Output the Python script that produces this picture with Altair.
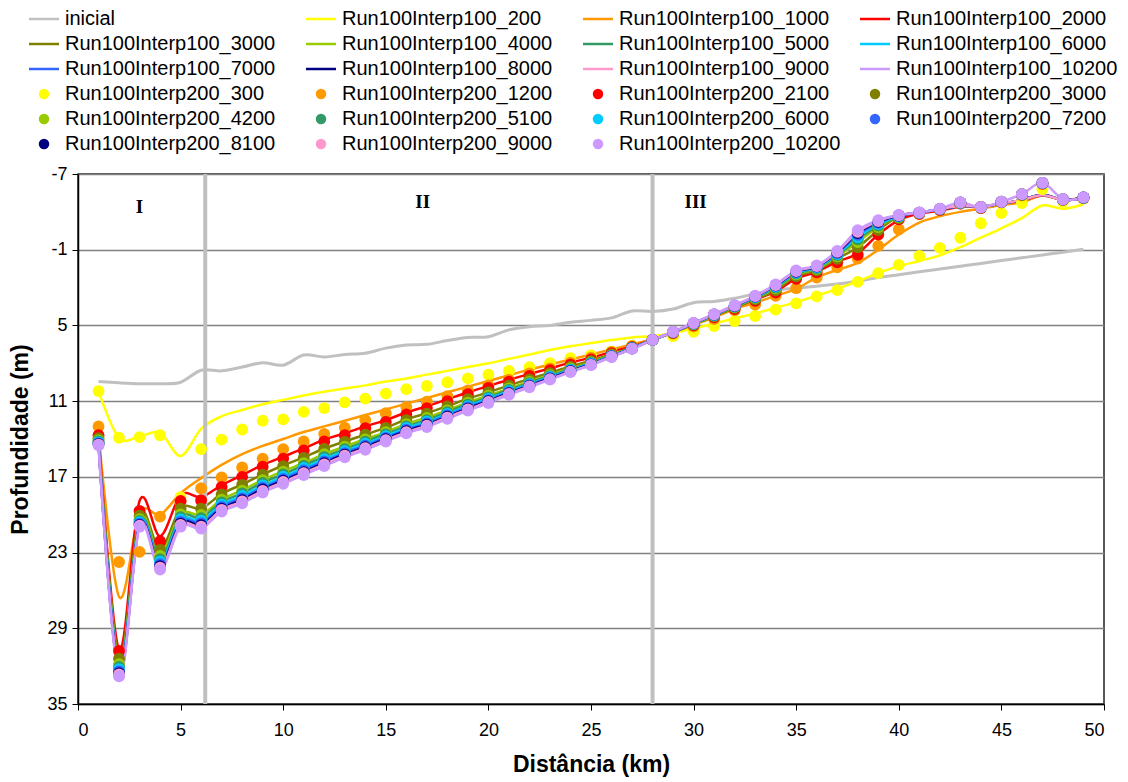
import altair as alt
import pandas as pd

# Distance along the profile (km) where every run was sampled
km = list(range(1, 50))

# Initial bathymetry
inicial = [9.45, 9.55, 9.62, 9.62, 9.5, 8.55, 8.6, 8.3, 7.95, 8.15,
           7.35, 7.5, 7.3, 7.2, 6.8, 6.55, 6.5, 6.2, 5.95, 5.9,
           5.35, 5.1, 5.0, 4.75, 4.6, 4.4, 3.85, 3.9, 3.7, 3.2,
           3.1, 2.85, 2.5, 2.2, 2.05, 1.9, 1.72, 1.5, 1.2, 0.98,
           0.75, 0.53, 0.31, 0.09, -0.14, -0.36, -0.58, -0.8, -1.03]

# Run100Interp100 profiles (lines)
l100_200 = [10.2, 13.9, 13.8, 13.5, 15.35, 13.2, 12.2, 11.7, 11.25, 10.9,
            10.55, 10.25, 10.0, 9.75, 9.45, 9.2, 8.9, 8.6, 8.3, 8.0,
            7.65, 7.3, 6.95, 6.65, 6.4, 6.15, 5.95, 5.85, 5.6, 5.25,
            4.85, 4.45, 4.05, 3.6, 3.15, 2.65, 2.1, 1.5, 0.85, 0.3,
            -0.1, -0.55, -1.2, -1.95, -2.7, -3.5, -4.5, -4.25, -4.6]
l100_1000 = [13.6, 26.5, 19.9, 20.0, 18.3, 17.1, 16.05, 15.2, 14.55, 14.0,
             13.45, 13.0, 12.55, 12.1, 11.65, 11.2, 10.75, 10.3, 9.85, 9.4,
             8.95, 8.5, 8.1, 7.7, 7.3, 6.9, 6.5, 6.1, 5.55, 4.95,
             4.35, 3.7, 3.2, 2.65, 2.1, 1.2, 0.6, 0.05, -1.0, -2.2,
             -3.15, -3.65, -4.0, -4.25, -4.55, -4.75, -5.3, -4.95, -5.15]
l100_2000 = [13.6, 30.7, 18.9, 21.7, 18.45, 18.6, 17.65, 16.85, 16.05, 15.4,
             14.75, 14.05, 13.55, 13.0, 12.5, 11.9, 11.4, 10.85, 10.3, 9.8,
             9.3, 8.85, 8.4, 7.95, 7.55, 7.1, 6.65, 6.12, 5.55, 4.9,
             4.25, 3.6, 2.95, 2.3, 1.3, 0.75, -0.05, -0.7, -2.2, -3.35,
             -3.85, -4.1, -4.4, -4.4, -4.65, -4.9, -5.3, -4.95, -5.1]
l100_3000 = [13.9, 31.35, 20.0, 22.75, 19.5, 19.5, 18.35, 17.6, 16.8, 16.1,
             15.45, 14.75, 14.2, 13.65, 13.1, 12.45, 11.95, 11.4, 10.8, 10.3,
             9.75, 9.25, 8.75, 8.25, 7.8, 7.28, 6.74, 6.14, 5.57, 4.93,
             4.27, 3.6, 2.92, 2.2, 1.1, 0.62, -0.3, -1.2, -2.55, -3.65,
             -3.95, -4.2, -4.45, -4.4, -4.65, -4.95, -5.35, -4.95, -5.1]
l100_4000 = [14.1, 31.8, 20.3, 23.2, 19.95, 20.0, 18.8, 18.05, 17.25, 16.55,
             15.9, 15.2, 14.6, 14.0, 13.45, 12.8, 12.3, 11.7, 11.1, 10.55,
             10.0, 9.45, 8.92, 8.4, 7.92, 7.35, 6.78, 6.15, 5.55, 4.9,
             4.22, 3.54, 2.84, 2.06, 0.96, 0.51, -0.47, -1.6, -2.8, -3.65,
             -3.95, -4.2, -4.45, -4.4, -4.65, -4.95, -5.35, -4.95, -5.1]
l100_5000 = [14.2, 32.05, 20.45, 23.5, 20.15, 20.25, 19.0, 18.3, 17.45, 16.8,
             16.1, 15.4, 14.8, 14.2, 13.6, 13.0, 12.5, 11.85, 11.25, 10.7,
             10.1, 9.55, 9.0, 8.47, 7.97, 7.38, 6.79, 6.15, 5.54, 4.87,
             4.19, 3.51, 2.8, 1.99, 0.89, 0.45, -0.57, -1.83, -2.92, -3.65,
             -3.95, -4.2, -4.45, -4.4, -4.65, -4.95, -5.35, -4.95, -5.1]
l100_6000 = [14.28, 32.24, 20.6, 23.72, 20.38, 20.47, 19.2, 18.51, 17.68, 16.99,
             16.3, 15.6, 14.96, 14.37, 13.77, 13.13, 12.63, 12.01, 11.39, 10.81,
             10.21, 9.65, 9.09, 8.53, 8.02, 7.42, 6.81, 6.15, 5.53, 4.86,
             4.17, 3.48, 2.76, 1.93, 0.83, 0.4, -0.65, -2.0, -3.03, -3.65,
             -3.95, -4.2, -4.45, -4.4, -4.65, -4.95, -5.35, -4.95, -5.1]
l100_7000 = [14.34, 32.4, 20.7, 23.9, 20.54, 20.65, 19.36, 18.68, 17.85, 17.15,
             16.46, 15.76, 15.1, 14.52, 13.9, 13.26, 12.76, 12.12, 11.49, 10.91,
             10.29, 9.72, 9.15, 8.58, 8.06, 7.44, 6.82, 6.15, 5.52, 4.84,
             4.15, 3.46, 2.73, 1.87, 0.77, 0.35, -0.73, -2.18, -3.13, -3.7,
             -3.95, -4.2, -4.45, -4.4, -4.65, -4.95, -5.35, -4.95, -5.1]
l100_8000 = [14.39, 32.54, 20.79, 24.06, 20.68, 20.81, 19.5, 18.83, 17.98, 17.3,
             16.6, 15.9, 15.22, 14.64, 14.0, 13.36, 12.86, 12.22, 11.58, 11.0,
             10.36, 9.78, 9.2, 8.62, 8.09, 7.46, 6.83, 6.15, 5.51, 4.82,
             4.13, 3.44, 2.7, 1.83, 0.73, 0.32, -0.79, -2.32, -3.21, -3.72,
             -3.95, -4.2, -4.45, -4.4, -4.65, -4.95, -5.35, -4.95, -5.1]
l100_9000 = [14.44, 32.66, 20.86, 24.19, 20.81, 20.94, 19.61, 18.95, 18.11, 17.41,
             16.71, 16.01, 15.33, 14.73, 14.09, 13.45, 12.95, 12.3, 11.66, 11.07,
             10.43, 9.84, 9.25, 8.66, 8.12, 7.48, 6.84, 6.15, 5.51, 4.81,
             4.12, 3.42, 2.68, 1.8, 0.7, 0.29, -0.84, -2.41, -3.27, -3.74,
             -3.95, -4.22, -4.46, -4.41, -4.68, -4.94, -5.34, -4.94, -5.07]
l100_10200 = [14.5, 32.8, 20.95, 24.35, 20.95, 21.1, 19.75, 19.1, 18.25, 17.55,
              16.85, 16.15, 15.45, 14.85, 14.2, 13.55, 13.05, 12.4, 11.75, 11.15,
              10.5, 9.9, 9.3, 8.7, 8.15, 7.5, 6.85, 6.15, 5.5, 4.8,
              4.1, 3.4, 2.65, 1.75, 0.65, 0.25, -0.9, -2.55, -3.35, -3.75,
              -3.95, -4.25, -4.75, -4.35, -4.8, -5.4, -6.3, -5.0, -5.15]

# Run100Interp200 profiles (markers only)
p200_300 = [10.2, 13.9, 13.85, 13.7, 18.6, 14.8, 14.05, 13.25, 12.55, 12.45,
            11.85, 11.55, 11.1, 10.8, 10.4, 10.05, 9.8, 9.5, 9.2, 8.9,
            8.6, 8.3, 8.0, 7.6, 7.35, 7.05, 6.6, 6.15, 5.85, 5.5,
            5.05, 4.65, 4.25, 3.75, 3.25, 2.7, 2.2, 1.55, 0.85, 0.2,
            -0.5, -1.15, -1.95, -3.1, -3.9, -4.7, -5.8, -4.8, -5.05]
p200_1200 = [13.0, 23.75, 22.95, 20.15, 19.0, 17.9, 17.05, 16.25, 15.55, 14.8,
             14.2, 13.6, 13.1, 12.5, 11.95, 11.45, 11.05, 10.6, 10.15, 9.75,
             9.3, 8.8, 8.4, 7.95, 7.55, 7.1, 6.65, 6.15, 5.65, 5.1,
             4.5, 3.8, 3.35, 2.65, 2.05, 1.2, 0.4, -0.3, -1.3, -2.6,
             -3.8, -4.15, -4.65, -4.3, -4.75, -5.3, -6.2, -4.95, -5.1]
p200_2100 = [13.7, 30.8, 19.7, 22.1, 18.9, 18.85, 17.8, 17.0, 16.2, 15.55,
             14.9, 14.2, 13.7, 13.15, 12.65, 12.05, 11.55, 11.0, 10.45, 9.95,
             9.45, 9.0, 8.55, 8.1, 7.7, 7.2, 6.7, 6.15, 5.6, 5.0,
             4.35, 3.7, 3.05, 2.4, 1.3, 0.8, 0.0, -0.6, -2.2, -3.4,
             -3.85, -4.15, -4.65, -4.3, -4.75, -5.35, -6.25, -4.95, -5.1]
p200_3000 = [13.94, 31.4, 20.08, 22.78, 19.52, 19.53, 18.39, 17.63, 16.82, 16.15,
             15.49, 14.79, 14.23, 13.66, 13.12, 12.5, 12.0, 11.42, 10.84, 10.31,
             9.77, 9.27, 8.78, 8.28, 7.84, 7.29, 6.75, 6.15, 5.57, 4.94,
             4.28, 3.61, 2.93, 2.21, 1.11, 0.64, -0.27, -1.19, -2.55, -3.51,
             -3.88, -4.18, -4.68, -4.33, -4.77, -5.37, -6.27, -4.97, -5.12]
p200_4200 = [14.12, 31.84, 20.35, 23.27, 19.97, 20.02, 18.81, 18.09, 17.27, 16.59,
             15.91, 15.21, 14.61, 14.03, 13.46, 12.83, 12.33, 11.73, 11.13, 10.57,
             10.0, 9.47, 8.94, 8.41, 7.93, 7.36, 6.78, 6.15, 5.55, 4.9,
             4.22, 3.54, 2.84, 2.06, 0.96, 0.51, -0.47, -1.61, -2.8, -3.58,
             -3.9, -4.2, -4.7, -4.35, -4.78, -5.38, -6.28, -4.98, -5.13]
p200_5100 = [14.2, 32.06, 20.49, 23.52, 20.19, 20.27, 19.03, 18.32, 17.49, 16.81,
             16.13, 15.43, 14.8, 14.22, 13.63, 13.0, 12.5, 11.88, 11.27, 10.71,
             10.11, 9.57, 9.02, 8.48, 7.98, 7.39, 6.79, 6.15, 5.54, 4.87,
             4.19, 3.51, 2.8, 1.99, 0.89, 0.45, -0.57, -1.83, -2.92, -3.62,
             -3.91, -4.21, -4.71, -4.36, -4.78, -5.38, -6.28, -4.98, -5.13]
p200_6000 = [14.28, 32.24, 20.6, 23.72, 20.38, 20.47, 19.2, 18.51, 17.68, 16.99,
             16.3, 15.6, 14.96, 14.37, 13.77, 13.13, 12.63, 12.01, 11.39, 10.81,
             10.21, 9.65, 9.09, 8.53, 8.02, 7.42, 6.81, 6.15, 5.53, 4.86,
             4.17, 3.48, 2.76, 1.93, 0.83, 0.4, -0.65, -2.0, -3.03, -3.65,
             -3.92, -4.22, -4.72, -4.37, -4.79, -5.39, -6.29, -4.99, -5.14]
p200_7200 = [14.35, 32.42, 20.71, 23.92, 20.56, 20.67, 19.38, 18.7, 17.86, 17.17,
             16.48, 15.78, 15.12, 14.53, 13.91, 13.27, 12.77, 12.13, 11.5, 10.92,
             10.3, 9.73, 9.16, 8.59, 8.06, 7.44, 6.82, 6.15, 5.52, 4.84,
             4.15, 3.46, 2.73, 1.87, 0.77, 0.35, -0.73, -2.18, -3.13, -3.68,
             -3.93, -4.23, -4.73, -4.38, -4.79, -5.39, -6.29, -4.99, -5.14]
p200_8100 = [14.4, 32.56, 20.8, 24.08, 20.7, 20.83, 19.52, 18.85, 18.0, 17.31,
             16.62, 15.92, 15.24, 14.65, 14.01, 13.37, 12.87, 12.23, 11.59, 11.01,
             10.37, 9.79, 9.21, 8.63, 8.1, 7.46, 6.83, 6.15, 5.51, 4.82,
             4.13, 3.44, 2.7, 1.83, 0.73, 0.32, -0.79, -2.32, -3.21, -3.71,
             -3.94, -4.24, -4.74, -4.39, -4.8, -5.4, -6.3, -5.0, -5.15]
p200_9000 = [14.44, 32.66, 20.86, 24.19, 20.81, 20.94, 19.61, 18.95, 18.11, 17.41,
             16.71, 16.01, 15.33, 14.73, 14.09, 13.45, 12.95, 12.3, 11.66, 11.07,
             10.43, 9.84, 9.25, 8.66, 8.12, 7.48, 6.84, 6.15, 5.51, 4.81,
             4.12, 3.42, 2.68, 1.8, 0.7, 0.29, -0.84, -2.41, -3.27, -3.73,
             -3.94, -4.24, -4.74, -4.39, -4.8, -5.4, -6.3, -5.0, -5.15]
p200_10200 = [14.5, 32.8, 20.95, 24.35, 20.95, 21.1, 19.75, 19.1, 18.25, 17.55,
              16.85, 16.15, 15.45, 14.85, 14.2, 13.55, 13.05, 12.4, 11.75, 11.15,
              10.5, 9.9, 9.3, 8.7, 8.15, 7.5, 6.85, 6.15, 5.5, 4.8,
              4.1, 3.4, 2.65, 1.75, 0.65, 0.25, -0.9, -2.55, -3.35, -3.75,
              -3.95, -4.25, -4.75, -4.35, -4.8, -5.4, -6.3, -5.0, -5.15]

# Sector boundaries and sector names
sector_km = [6.2, 28.0]
sector_names = ["I", "II", "III"]
sector_name_km = [3.0, 16.8, 30.1]
sector_name_prof = [-4.4, -4.8, -4.8]

# Axis ticks
x_ticks = [0, 5, 10, 15, 20, 25, 30, 35, 40, 45, 50]
y_ticks = [-7, -1, 5, 11, 17, 23, 29, 35]

line_series = [
    ("inicial", inicial, "#C0C0C0"),
    ("Run100Interp100_200", l100_200, "#FFFF00"),
    ("Run100Interp100_1000", l100_1000, "#FF9900"),
    ("Run100Interp100_2000", l100_2000, "#FF0000"),
    ("Run100Interp100_3000", l100_3000, "#808000"),
    ("Run100Interp100_4000", l100_4000, "#99CC00"),
    ("Run100Interp100_5000", l100_5000, "#339966"),
    ("Run100Interp100_6000", l100_6000, "#00CCFF"),
    ("Run100Interp100_7000", l100_7000, "#3366FF"),
    ("Run100Interp100_8000", l100_8000, "#000080"),
    ("Run100Interp100_9000", l100_9000, "#FF99CC"),
    ("Run100Interp100_10200", l100_10200, "#CC99FF"),
]
point_series = [
    ("Run100Interp200_300", p200_300, "#FFFF00"),
    ("Run100Interp200_1200", p200_1200, "#FF9900"),
    ("Run100Interp200_2100", p200_2100, "#FF0000"),
    ("Run100Interp200_3000", p200_3000, "#808000"),
    ("Run100Interp200_4200", p200_4200, "#99CC00"),
    ("Run100Interp200_5100", p200_5100, "#339966"),
    ("Run100Interp200_6000", p200_6000, "#00CCFF"),
    ("Run100Interp200_7200", p200_7200, "#3366FF"),
    ("Run100Interp200_8100", p200_8100, "#000080"),
    ("Run100Interp200_9000", p200_9000, "#FF99CC"),
    ("Run100Interp200_10200", p200_10200, "#CC99FF"),
]

FONT = "Liberation Sans"

x_scale = alt.Scale(domain=[0, 50], nice=False, zero=False)
y_scale = alt.Scale(domain=[-7, 35], reverse=True, nice=False, zero=False)

x_axis = alt.Axis(title="Distância (km)", values=x_ticks, grid=False,
                  labelExpr="'' + datum.value",
                  tickSize=6, labelPadding=11, titlePadding=14,
                  labelFont=FONT, labelFontSize=18, labelColor="black",
                  titleFont=FONT, titleFontSize=23, titleFontWeight="bold",
                  titleColor="black", domainColor="black", tickColor="black",
                  domainWidth=1.5)
y_axis = alt.Axis(title="Profundidade (m)", values=y_ticks, grid=True,
                  labelExpr="'' + datum.value",
                  tickSize=6, labelPadding=5, titlePadding=14,
                  labelFont=FONT, labelFontSize=18, labelColor="black",
                  titleFont=FONT, titleFontSize=23, titleFontWeight="bold",
                  titleColor="black", domainColor="black", tickColor="black",
                  gridColor="#808080", gridWidth=1.5, domainWidth=1.5)

x_enc = alt.X("km:Q", scale=x_scale, axis=x_axis)
y_enc = alt.Y("prof:Q", scale=y_scale, axis=y_axis)

legend_style = dict(
    title=None, orient="none", direction="horizontal", columns=4,
    labelOffset=11, labelFont=FONT, labelFontSize=20, labelColor="black",
    labelLimit=400, columnPadding=14, rowPadding=5, gridAlign="all", padding=0,
)
line_legend = alt.Legend(legendX=-54, legendY=-165, symbolType="M-3,0H3",
                         symbolSize=100, symbolStrokeWidth=2.5, symbolOffset=10,
                         **legend_style)
point_legend = alt.Legend(legendX=-54, legendY=-90, symbolType="circle",
                          symbolSize=110, symbolOffset=10, symbolStrokeWidth=0,
                          **legend_style)

line_color = alt.Color("serie:N",
                       scale=alt.Scale(domain=[s[0] for s in line_series],
                                       range=[s[2] for s in line_series]),
                       legend=line_legend)
point_fill = alt.Fill("serie:N",
                      scale=alt.Scale(domain=[s[0] for s in point_series],
                                      range=[s[2] for s in point_series]),
                      legend=point_legend)

layers = []

# Smoothed profile lines, drawn in series order
for name, values, _ in line_series:
    df = pd.DataFrame({"km": km, "prof": values, "serie": name})
    width = 3 if name == "inicial" else 2.5
    layers.append(
        alt.Chart(df).mark_line(interpolate="cardinal", strokeWidth=width)
        .encode(x=x_enc, y=y_enc, color=line_color)
    )

# Sector boundaries
sep_df = pd.DataFrame({"km": sector_km})
layers.append(
    alt.Chart(sep_df).mark_rule(color="#BFBFBF", strokeWidth=4).encode(x=x_enc)
)

# Marker-only profiles
for name, values, _ in point_series:
    df = pd.DataFrame({"km": km, "prof": values, "serie": name})
    layers.append(
        alt.Chart(df).mark_circle(size=140, opacity=1, strokeWidth=0)
        .encode(x=x_enc, y=y_enc, fill=point_fill)
    )

# Sector names
lab_df = pd.DataFrame({"km": sector_name_km, "prof": sector_name_prof, "txt": sector_names})
layers.append(
    alt.Chart(lab_df).mark_text(font="Liberation Serif", fontWeight="bold",
                                fontSize=19, color="black")
    .encode(x=x_enc, y=y_enc, text="txt:N")
)

chart = (
    alt.layer(*layers)
    .properties(width=1026, height=530, background="white",
                autosize=alt.AutoSizeParams(type="none"),
                padding={"left": 78, "top": 174, "right": 24, "bottom": 78})
    .configure_view(stroke="#222222", strokeWidth=1.5)
)

chart.save("out.html", embed_options={"renderer": "svg", "actions": False})
